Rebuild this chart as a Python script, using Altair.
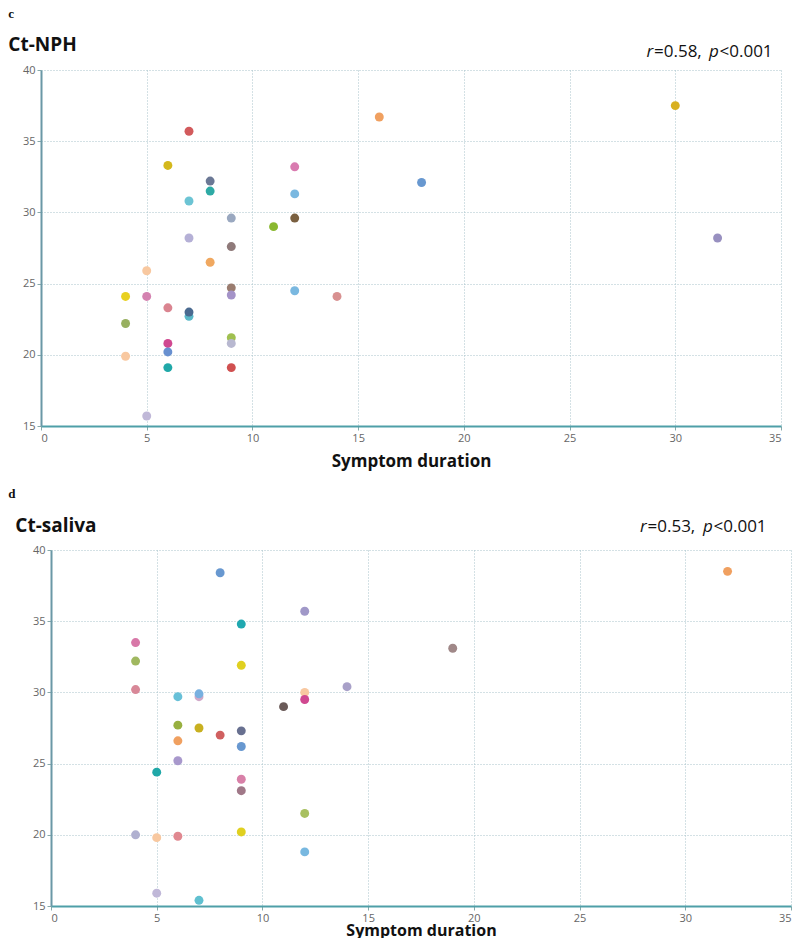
import altair as alt
import pandas as pd

# ---------------- Panel c : Ct-NPH ----------------
nph_duration = [7, 6, 12, 8, 8, 12, 7, 9, 12, 11, 7, 9, 8, 5, 9, 12, 9, 4,
                5, 6, 7, 7, 4, 9, 9, 6, 6, 4, 6, 9, 5, 16, 30, 18, 32, 14]
nph_ct = [35.7, 33.3, 33.2, 32.2, 31.5, 31.3, 30.8, 29.6, 29.6, 29.0, 28.2, 27.6,
          26.5, 25.9, 24.7, 24.5, 24.2, 24.1, 24.1, 23.3, 22.7, 23.0, 22.2, 21.2,
          20.8, 20.8, 20.2, 19.9, 19.1, 19.1, 15.7, 36.7, 37.5, 32.1, 28.2, 24.1]
nph_colors = ["#d25a5c", "#d4b81c", "#d97bb0", "#6b7895", "#2eaaa5", "#7ab8e0",
              "#6cc4d4", "#9aa8c0", "#7a6040", "#8ab830", "#b5b0d6", "#8f7a7a",
              "#f0a860", "#f8c8a0", "#9a7c6f", "#7ab8e0", "#a493c8", "#e8d020",
              "#d482b0", "#da8490", "#5ab8c8", "#4a6a90", "#98b060", "#a0c050",
              "#b8b8d0", "#d04890", "#6890d0", "#f8c8a0", "#20a8a8", "#d05050",
              "#c0b8d8", "#f0a060", "#d8b020", "#6898d0", "#9890c0", "#d89090"]

# ---------------- Panel d : Ct-saliva ----------------
sal_duration = [8, 9, 4, 4, 9, 4, 6, 7, 7, 11, 6, 7, 8, 9, 6, 9, 6, 5,
                9, 9, 9, 4, 5, 6, 5, 7, 12, 19, 14, 12, 12, 12, 12, 32]
sal_ct = [38.4, 34.8, 33.5, 32.2, 31.9, 30.2, 29.7, 29.7, 29.9, 29.0, 27.7, 27.5,
          27.0, 27.3, 26.6, 26.2, 25.2, 24.4, 23.9, 23.1, 20.2, 20.0, 19.8, 19.9,
          15.9, 15.4, 35.7, 33.1, 30.4, 30.0, 29.5, 21.5, 18.8, 38.5]
sal_colors = ["#6898d0", "#20a8b0", "#d878a8", "#a0b860", "#e0d020", "#d88898",
              "#68c0d8", "#d0a8c8", "#78b0e0", "#6a5a58", "#98b040", "#c8b020",
              "#d06060", "#687090", "#f0a060", "#6898d0", "#a898cc", "#20a8a8",
              "#d880a8", "#a07888", "#e0d020", "#b0b0d0", "#f8c8a0", "#e08890",
              "#c0b8d8", "#60c0d0", "#a098c8", "#a08888", "#a8a0c8", "#f8c8a0",
              "#d04890", "#a8c060", "#78b8e0", "#f0a060"]

x_ticks = [0, 5, 10, 15, 20, 25, 30, 35]
y_ticks = [15, 20, 25, 30, 35, 40]

FONT = "Open Sans"
H = 356


def text_layer(txt, x, y, size, weight="normal", style="normal", font=FONT,
               align="left", baseline="alphabetic"):
    return alt.Chart(pd.DataFrame({"t": [txt]})).mark_text(
        font=font, fontSize=size, fontWeight=weight, fontStyle=style,
        align=align, baseline=baseline, color="#111"
    ).encode(x=alt.value(x), y=alt.value(y), text="t:N")


def panel(xs, ys, cols, letter, name, rval, shift, name_x, name_y,
          r_pieces_x, r_y, title_y, title_size, tick_size, label_pad):
    plot_w = 740
    df = pd.DataFrame({"x": xs, "y": ys, "c": cols, "i": list(range(len(xs)))})
    pts = alt.Chart(df).mark_circle(size=80, opacity=1).encode(
        x=alt.X("x:Q",
                scale=alt.Scale(domain=[0, 35], nice=False, zero=False,
                                range=[shift, shift + plot_w]),
                axis=alt.Axis(values=x_ticks, title="Symptom duration",
                              labelFont=FONT, labelFontSize=11, labelColor="#666",
                              labelPadding=label_pad, tickSize=tick_size,
                              tickColor="#8aa",
                              domainColor="#4f9fa8", domainWidth=2,
                              grid=True, gridColor="#a9c2ca", gridDash=[1, 2],
                              gridWidth=1,
                              titleFont=FONT, titleFontSize=title_size,
                              titleFontWeight="bold",
                              titleColor="#111", titleBaseline="alphabetic",
                              titleY=title_y)),
        y=alt.Y("y:Q",
                scale=alt.Scale(domain=[15, 40], nice=False, zero=False),
                axis=alt.Axis(values=y_ticks, title=None, offset=-shift,
                              labelFont=FONT, labelFontSize=11, labelColor="#666",
                              labelPadding=2, tickSize=4, tickColor="#8aa",
                              domainColor="#6a98a6", domainWidth=2,
                              grid=True, gridColor="#a9c2ca", gridDash=[1, 2],
                              gridWidth=1)),
        color=alt.Color("c:N", scale=None),
        order=alt.Order("i:Q"),
    )
    layers = [pts,
              text_layer(letter, -32.7, -52, 13, weight="bold",
                         font="Liberation Serif"),
              text_layer(name, name_x, name_y, 19, weight="bold")]
    rx = r_pieces_x
    layers += [text_layer("r", rx[0], r_y, 17, style="italic"),
               text_layer("=" + rval + ",", rx[1], r_y, 17),
               text_layer("p", rx[2], r_y, 17, style="italic"),
               text_layer("<0.001", rx[3], r_y, 17)]
    return alt.layer(*layers).properties(width=shift + plot_w, height=H)


# plot-area origin for both panels sits at page x = 40.7; panel d is shifted 10px right
p1 = panel(nph_duration, nph_ct, nph_colors, "c", "Ct-NPH", "0.58", 0,
           -32.7, -19.3, [605.5, 613, 668, 678.5], -12.7, 40, 17, 4, 2)
p2 = panel(sal_duration, sal_ct, sal_colors, "d", "Ct-saliva", "0.53", 10,
           -25.7, -18.3, [599, 606.5, 662, 672.5], -17.7, 29, 16, 4, 2)

chart = alt.vconcat(p1, p2, spacing=19).properties(padding=0).configure_view(
    stroke=None)

chart.save("out.html", embed_options={"renderer": "svg", "actions": False})
